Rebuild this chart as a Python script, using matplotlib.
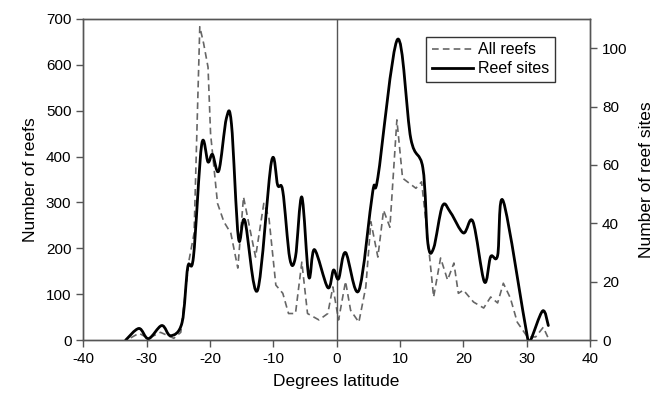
import matplotlib.pyplot as plt
from matplotlib.path import Path
from matplotlib.patches import PathPatch
from matplotlib.lines import Line2D

plt.rcParams['font.family'] = ['Liberation Sans', 'DejaVu Sans']
plt.rcParams['axes.unicode_minus'] = False

# All reefs (left axis)
reef_lat = [-32.5, -31.2, -29.7, -27.8, -25.7, -24.6, -23.3, -22.5, -21.6, -21.0,
            -20.3, -19.9, -18.8, -17.8, -16.7, -15.6, -14.7, -12.8, -11.5, -10.7,
            -9.6, -8.5, -7.6, -6.5, -5.5, -4.6, -2.8, -1.4, -0.6, 0.3,
            1.4, 2.2, 3.5, 4.6, 5.4, 6.5, 7.4, 8.4, 9.5, 10.4,
            12.5, 13.4, 14.4, 15.3, 16.4, 17.5, 18.5, 19.2, 20.0, 21.6,
            23.2, 24.3, 25.4, 26.3, 27.4, 28.5, 30.1, 31.4, 32.6, 33.4]
all_reefs = [5, 15, 4, 17, 4, 17, 174, 233, 683, 647,
             595, 450, 298, 258, 233, 157, 312, 181, 298, 268,
             120, 102, 58, 58, 170, 58, 44, 58, 116, 44,
             128, 65, 39, 116, 258, 181, 283, 246, 480, 353,
             331, 345, 218, 94, 179, 131, 168, 102, 109, 83,
             70, 94, 81, 124, 92, 39, 7, 7, 28, 4]

# Reef sites (right axis)
site_lat = [-33.3, -31.2, -29.7, -27.6, -26.2, -24.4, -23.5, -22.6, -21.3, -20.3,
            -19.6, -18.6, -17.4, -16.6, -15.5, -14.5, -12.5, -10.3, -9.3, -8.5,
            -7.4, -6.5, -5.5, -4.4, -3.5, -1.4, -0.5, 0.3, 1.4, 3.5,
            5.7, 6.5, 9.6, 11.7, 13.6, 14.4, 15.3, 16.7, 18.0, 20.0,
            21.5, 23.3, 24.3, 25.4, 26.3, 30.1, 30.6, 32.5, 33.4]
reef_sites = [0, 4, 0.5, 5, 1.5, 6, 25, 28.5, 67, 61,
              63.6, 58, 76, 74, 35, 41, 17, 61, 53, 51,
              28, 28.5, 49, 21.7, 31, 18, 24, 21, 30, 17,
              51, 55.7, 103, 69, 59, 33, 31.5, 46, 43.6, 36.7,
              40.6, 20, 28.6, 29, 47.5, 1, 0, 10, 5]


def smooth_path(x, y):
    # Catmull-Rom curve through the points, drawn as bezier segments
    verts = [(x[0], y[0])]
    codes = [Path.MOVETO]
    n = len(x)
    for i in range(n - 1):
        x0, y0 = x[max(i - 1, 0)], y[max(i - 1, 0)]
        x1, y1 = x[i], y[i]
        x2, y2 = x[i + 1], y[i + 1]
        x3, y3 = x[min(i + 2, n - 1)], y[min(i + 2, n - 1)]
        verts += [(x1 + (x2 - x0) / 6, y1 + (y2 - y0) / 6),
                  (x2 - (x3 - x1) / 6, y2 - (y3 - y1) / 6),
                  (x2, y2)]
        codes += [Path.CURVE4] * 3
    return Path(verts, codes)


fig = plt.figure(figsize=(6.55, 4.03), dpi=100)
ax = fig.add_axes([0.127, 0.156, 0.774, 0.797])
ax2 = ax.twinx()

grey = '#555555'
l1, = ax.plot(reef_lat, all_reefs, color='#666666', lw=1.2, ls=(0, (4, 2.5)))
ax2.add_patch(PathPatch(smooth_path(site_lat, reef_sites), facecolor='none',
                        edgecolor='black', lw=2, capstyle='round', joinstyle='round'))
l2 = Line2D([], [], color='black', lw=2)
ax.axvline(0, color=grey, lw=1)

ax.set_xlim(-40, 40)
ax.set_ylim(0, 700)
ax2.set_ylim(0, 110)
ax.set_xticks(range(-40, 41, 10))
ax.set_yticks(range(0, 701, 100))
ax2.set_yticks(range(0, 101, 20))

for a in (ax, ax2):
    for s in a.spines.values():
        s.set_color(grey)
        s.set_linewidth(1)
    a.tick_params(colors=grey, labelcolor='black', labelsize=11, length=5, width=1)

ax.set_xlabel('Degrees latitude', fontsize=12.5, labelpad=6)
ax.set_ylabel('Number of reefs', fontsize=12.5, labelpad=6)
ax2.set_ylabel('Number of reef sites', fontsize=12.5, labelpad=8)

leg = ax2.legend([l1, l2], ['All reefs', 'Reef sites'], loc='upper right',
                 bbox_to_anchor=(0.93, 0.945), fontsize=11.5, frameon=True,
                 fancybox=False, handlelength=2.6, handletextpad=0.3,
                 borderpad=0.35, labelspacing=0.25, borderaxespad=0)
leg.get_frame().set_edgecolor('black')
leg.get_frame().set_linewidth(1)

fig.savefig('out.png', dpi=100)
